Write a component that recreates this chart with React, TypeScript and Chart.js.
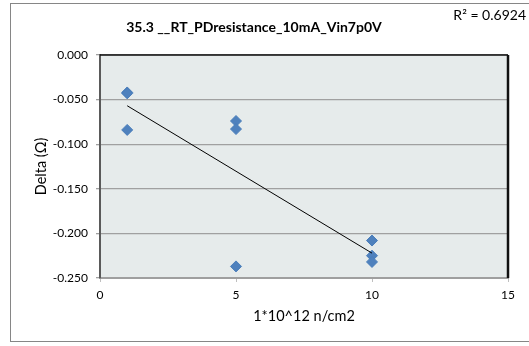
import React, { useEffect, useRef } from 'react';
import { Chart, registerables } from 'chart.js';

Chart.register(...registerables);

const TITLE = '35.3 __RT_PDresistance_10mA_Vin7p0V';
const X_TITLE = '1*10^12 n/cm2';
const Y_TITLE = 'Delta (Ω)';
const R2_LABEL = 'R² = 0.6924';
const FLUENCE = [1, 1, 1, 5, 5, 5, 10, 10, 10];
const DELTA = [-0.042, -0.043, -0.084, -0.074, -0.083, -0.237, -0.208, -0.225, -0.232];
const X_RANGE = [0, 15];
const X_STEP = 5;
const Y_RANGE = [-0.25, 0];
const Y_STEP = 0.05;

const FONT = 'Lato, "Liberation Sans", sans-serif';

function linearFit(xs: number[], ys: number[]) {
  const n = xs.length;
  const mx = xs.reduce((a, b) => a + b, 0) / n;
  const my = ys.reduce((a, b) => a + b, 0) / n;
  let sxy = 0;
  let sxx = 0;
  for (let i = 0; i < n; i++) {
    sxy += (xs[i] - mx) * (ys[i] - my);
    sxx += (xs[i] - mx) * (xs[i] - mx);
  }
  const slope = sxy / sxx;
  return { slope, intercept: my - slope * mx };
}

const decor = {
  id: 'decor',
  beforeDraw(chart: any) {
    const { ctx, chartArea: a } = chart;
    ctx.save();
    ctx.fillStyle = '#ffffff';
    ctx.fillRect(0, 0, chart.width, chart.height);
    ctx.strokeStyle = '#868686';
    ctx.lineWidth = 1;
    ctx.strokeRect(10.5, 3.5, 560, 338);
    ctx.fillStyle = '#E6EBEB';
    ctx.fillRect(a.left, a.top, a.right - a.left, a.bottom - a.top);
    ctx.restore();
  },
  afterDraw(chart: any) {
    const { ctx, chartArea: a } = chart;
    ctx.save();
    ctx.strokeStyle = '#111111';
    ctx.lineWidth = 1.5;
    ctx.beginPath();
    ctx.moveTo(a.left, a.top);
    ctx.lineTo(a.right, a.top);
    ctx.stroke();
    ctx.lineWidth = 2.5;
    ctx.beginPath();
    ctx.moveTo(a.right, a.top);
    ctx.lineTo(a.right, a.bottom);
    ctx.stroke();
    ctx.fillStyle = '#000';
    ctx.font = '14px ' + FONT;
    ctx.textAlign = 'right';
    ctx.textBaseline = 'alphabetic';
    ctx.fillText(R2_LABEL, 526, 20);
    ctx.restore();
  },
};

export default function App() {
  const ref = useRef<HTMLCanvasElement | null>(null);

  useEffect(() => {
    if (!ref.current) return;
    const fit = linearFit(FLUENCE, DELTA);
    const xMin = Math.min(...FLUENCE);
    const xMax = Math.max(...FLUENCE);
    const trend = [
      { x: xMin, y: fit.slope * xMin + fit.intercept },
      { x: xMax, y: fit.slope * xMax + fit.intercept },
    ];
    const points = FLUENCE.map((x, i) => ({ x, y: DELTA[i] }));

    const chart = new Chart(ref.current, {
      type: 'scatter',
      data: {
        datasets: [
          {
            type: 'line',
            data: trend,
            borderColor: '#000000',
            borderWidth: 1,
            pointRadius: 0,
            fill: false,
          } as any,
          {
            data: points,
            pointStyle: 'rectRot',
            pointRadius: 5.5,
            backgroundColor: '#4F81BD',
            borderColor: '#4A7EBB',
            borderWidth: 1,
          },
        ],
      },
      options: {
        responsive: false,
        animation: false,
        layout: { padding: { left: 0, right: 21, top: 0, bottom: 0 } },
        plugins: {
          legend: { display: false },
          tooltip: { enabled: false },
          title: {
            display: true,
            text: TITLE,
            color: '#000',
            font: { family: FONT, size: 14, weight: 'bold', lineHeight: 1.2 },
            padding: { top: 19, bottom: 19.2 },
          },
        },
        scales: {
          x: {
            type: 'linear',
            min: X_RANGE[0],
            max: X_RANGE[1],
            ticks: {
              stepSize: X_STEP,
              color: '#000',
              font: { family: FONT, size: 12 },
              padding: 6,
            },
            grid: {
              drawOnChartArea: false,
              drawTicks: true,
              tickLength: 4,
              color: '#BFBFBF',
            },
            border: { color: '#9F9F9F', width: 2 },
            title: {
              display: true,
              text: X_TITLE,
              color: '#000',
              font: { family: FONT, size: 14.5, lineHeight: 1.2 },
              padding: { top: 0, bottom: 21 },
            },
            afterFit(scale: any) {
              scale.height = 68;
            },
          },
          y: {
            type: 'linear',
            min: Y_RANGE[0],
            max: Y_RANGE[1],
            ticks: {
              stepSize: Y_STEP,
              color: '#000',
              font: { family: FONT, size: 12 },
              padding: 8,
              callback: (v: any) => Number(v).toFixed(3),
            },
            grid: {
              color: '#A0A0A0',
              lineWidth: 1.3,
              tickLength: 4,
            },
            border: { color: '#5A5A5A', width: 2 },
            title: {
              display: true,
              text: Y_TITLE,
              color: '#000',
              font: { family: FONT, size: 14.5, lineHeight: 1.2 },
              padding: { top: 33, bottom: 0 },
            },
            afterFit(scale: any) {
              scale.width = 100;
            },
          },
        },
      },
      plugins: [decor],
    });
    return () => chart.destroy();
  }, []);

  return (
    <canvas
      ref={ref}
      width={529}
      height={346}
      style={{ position: 'fixed', left: 0, top: 0, width: 529, height: 346 }}
    />
  );
}
